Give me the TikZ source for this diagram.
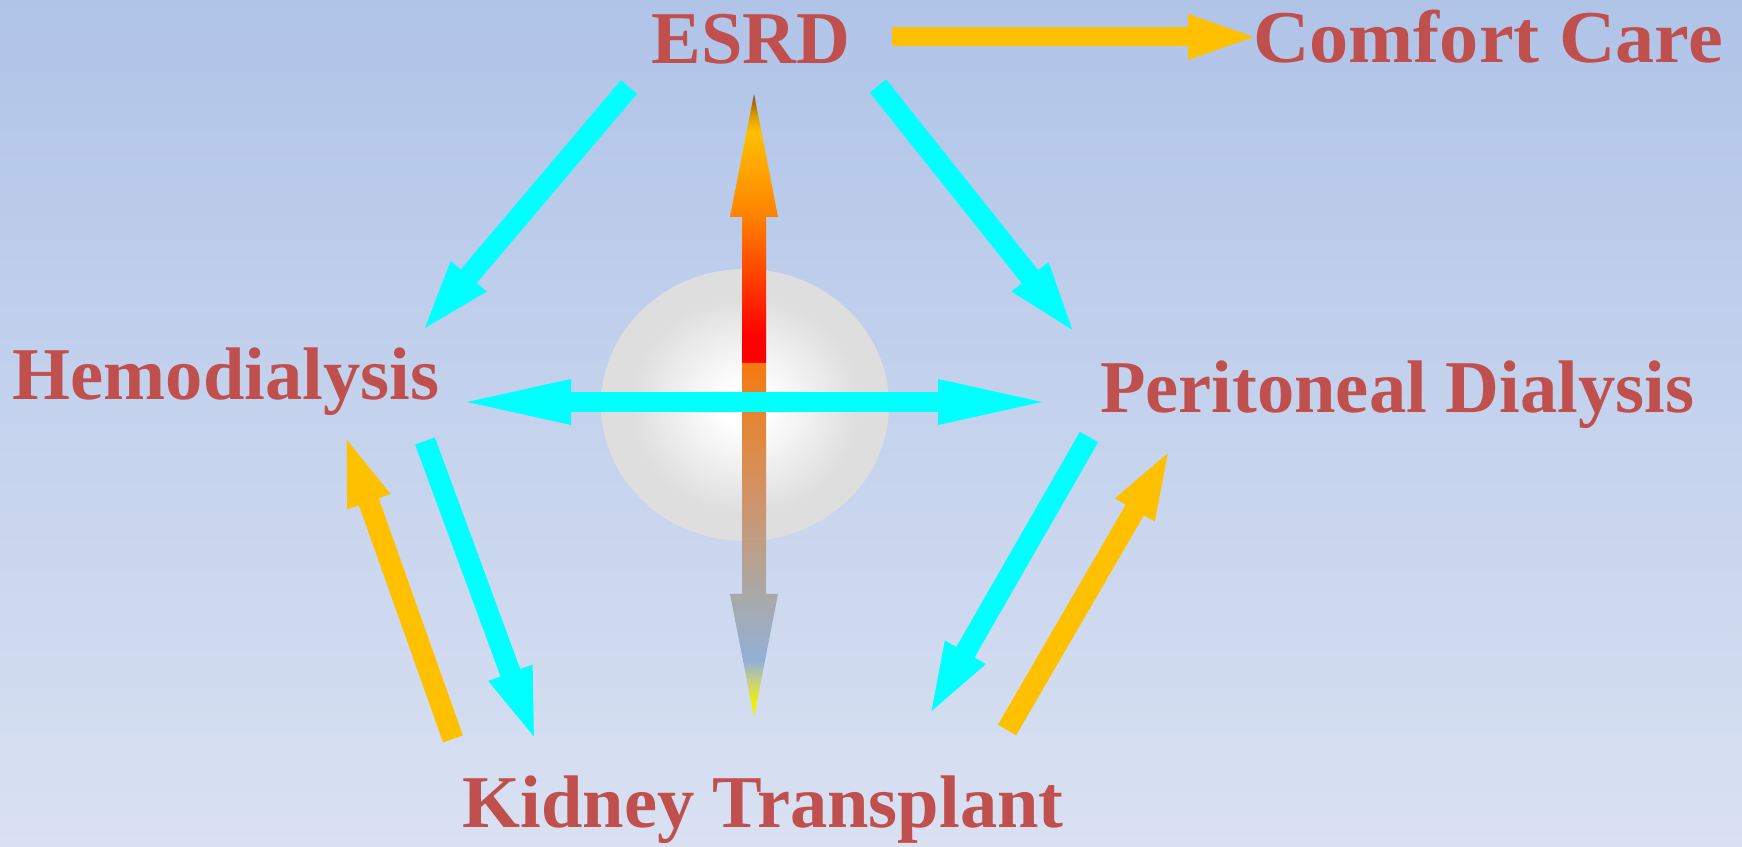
\documentclass[tikz,border=0pt]{standalone}
\usepackage{fontspec}
\setmainfont{Liberation Serif}
\usetikzlibrary{arrows.meta,positioning,calc}

\definecolor{labred}{HTML}{C0504D}
\definecolor{flowcyan}{HTML}{00FFFF}
\definecolor{flowgold}{HTML}{FFC000}
\definecolor{bgtop}{HTML}{B0C4E8}
\definecolor{bgbot}{HTML}{D9E1F2}
\definecolor{upmid}{HTML}{FF8000}
\definecolor{upgold}{HTML}{FFC000}
\definecolor{upend}{HTML}{8A4A00}
\definecolor{dntop}{HTML}{F57A10}
\definecolor{dntan}{HTML}{D09468}
\definecolor{dngray}{HTML}{A9A9A9}
\definecolor{dnblue}{HTML}{92B0D6}
\definecolor{dngreen}{HTML}{C8D080}
\definecolor{dnend}{HTML}{F0F000}

\pgfdeclareradialshading{sphereshade}{\pgfpoint{0bp}{0bp}}{color(0bp)=(white); color(4bp)=(white); color(20bp)=(black!13); color(25bp)=(black!13); color(50bp)=(black!13)}
\pgfdeclareverticalshading{esrdup}{100bp}{color(0bp)=(red); color(30bp)=(red); color(52bp)=(upmid); color(68bp)=(upgold); color(71bp)=(upgold!70!upend); color(75bp)=(upend); color(100bp)=(upend)}
\pgfdeclareverticalshading{esrddown}{100bp}{color(0bp)=(dnend); color(27bp)=(dnend); color(30bp)=(dngreen); color(33bp)=(dnblue); color(42bp)=(dngray); color(56bp)=(dntan); color(75bp)=(dntop); color(100bp)=(dntop)}

\begin{document}
\begin{tikzpicture}[
  lab/.style={font=\fontsize{21.2}{25}\selectfont\bfseries, text=labred, inner sep=0pt, anchor=base},
  cyanarr/.style={-{Triangle[length=7.7mm,width=4mm]}, line width=2.1mm, color=flowcyan},
  goldarr/.style={-{Triangle[length=7.4mm,width=3.9mm]}, line width=2.1mm, color=flowgold},
  widearr/.style={{Triangle[length=12mm,width=3.9mm]}-{Triangle[length=12mm,width=3.9mm]}, line width=2mm, color=flowcyan}
]
% background
\shade[top color=bgtop, bottom color=bgbot] (0,0) rectangle (17.42,8.47);

% labels
\node[lab] (esrd) at (7.51,7.83) {ESRD};
\node[lab, xscale=1.05, transform shape] (comfort) at (14.88,7.84) {Comfort Care};
\node[lab] (hemo) at (2.26,4.47) {Hemodialysis};
\node[lab] (perit) at (13.97,4.34) {Peritoneal Dialysis};
\node[lab] (kidney) at (7.63,0.19) {Kidney Transplant};

% arrow ends
\coordinate (esrd-l) at (6.29,7.60);
\coordinate (esrd-r) at (8.78,7.61);
\coordinate (esrd-e) at (8.92,8.10);
\coordinate (comfort-w) at (12.62,8.10);
\coordinate (hemo-ne) at (4.19,5.12);
\coordinate (perit-nw) at (10.78,5.10);
\coordinate (hemo-e) at (4.51,4.45);
\coordinate (perit-w) at (10.58,4.45);
\coordinate (hemo-s1) at (4.25,4.06);
\coordinate (hemo-s2) at (3.44,4.15);
\coordinate (kidney-l1) at (5.37,1.02);
\coordinate (kidney-l2) at (4.53,1.08);
\coordinate (perit-s1) at (10.89,4.10);
\coordinate (perit-s2) at (11.72,4.01);
\coordinate (kidney-r1) at (9.27,1.28);
\coordinate (kidney-r2) at (10.07,1.17);
\coordinate (core) at (7.54,4.84);
\coordinate (uptip) at (7.54,7.53);
\coordinate (downtip) at (7.54,1.30);

% centre ball and the two shaded arrows
\path[shading=sphereshade] (7.45,4.42) ellipse [x radius=1.44, y radius=1.36];
\shade[shading=esrdup] (core) ++(-0.12,0) -- ++(0,1.46) -- ++(-0.12,0) -- (uptip)
  -- ++(0.24,-1.23) -- ++(-0.12,0) -- ++(0,-1.46) -- cycle;
\shade[shading=esrddown] (core) ++(-0.12,0) -- ++(0,-2.31) -- ++(-0.12,0) -- (downtip)
  -- ++(0.24,1.23) -- ++(-0.12,0) -- ++(0,2.31) -- cycle;

% flows
\draw[widearr] (hemo-e) -- (perit-w);
\draw[cyanarr] (esrd-l) -- (hemo-ne);
\draw[cyanarr] (esrd-r) -- (perit-nw);
\draw[goldarr, line width=1.9mm] (esrd-e) -- (comfort-w);
\draw[cyanarr] (hemo-s1) -- (kidney-l1);
\draw[goldarr] (kidney-l2) -- (hemo-s2);
\draw[cyanarr] (perit-s1) -- (kidney-r1);
\draw[goldarr] (kidney-r2) -- (perit-s2);
\end{tikzpicture}
\end{document}
